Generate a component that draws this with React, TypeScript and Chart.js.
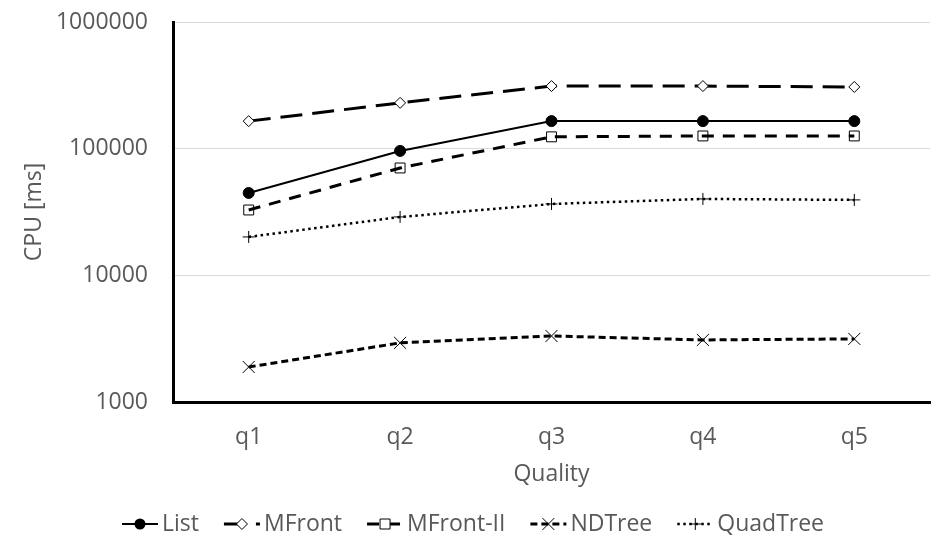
import React, { useEffect, useRef } from "react";
import { Chart, registerables } from "chart.js";

Chart.register(...registerables);

const categories = ["q1", "q2", "q3", "q4", "q5"];
const listValues = [44700, 96000, 165000, 165000, 165000];
const mfrontValues = [165000, 230000, 312000, 312000, 307000];
const mfront2Values = [32800, 70400, 124000, 126000, 126000];
const ndtreeValues = [1890, 2930, 3320, 3090, 3150];
const quadtreeValues = [20100, 28900, 36600, 40100, 39400];
const yTicks = [1000, 10000, 100000, 1000000];

const FONT = '"Open Sans", "Noto Sans", sans-serif';
const TEXT = "#595959";

type Marker = "circle" | "diamond" | "square" | "crossRot" | "cross";

function drawMarker(ctx: CanvasRenderingContext2D, m: Marker, x: number, y: number) {
  ctx.save();
  ctx.setLineDash([]);
  ctx.lineWidth = 1;
  ctx.strokeStyle = "#000";
  ctx.beginPath();
  if (m === "circle") {
    ctx.fillStyle = "#000";
    ctx.arc(x, y, 5.5, 0, Math.PI * 2);
    ctx.fill();
  } else if (m === "diamond") {
    ctx.fillStyle = "#fff";
    ctx.moveTo(x - 5.5, y);
    ctx.lineTo(x, y - 5.5);
    ctx.lineTo(x + 5.5, y);
    ctx.lineTo(x, y + 5.5);
    ctx.closePath();
    ctx.fill();
    ctx.stroke();
  } else if (m === "square") {
    ctx.fillStyle = "#fff";
    ctx.rect(x - 5, y - 5, 10, 10);
    ctx.fill();
    ctx.stroke();
  } else if (m === "crossRot") {
    const d = 6;
    ctx.moveTo(x - d, y - d);
    ctx.lineTo(x + d, y + d);
    ctx.moveTo(x - d, y + d);
    ctx.lineTo(x + d, y - d);
    ctx.stroke();
  } else {
    const d = 6;
    ctx.moveTo(x - d, y);
    ctx.lineTo(x + d, y);
    ctx.moveTo(x, y - d);
    ctx.lineTo(x, y + d);
    ctx.stroke();
  }
  ctx.restore();
}

const legendPlugin = {
  id: "customLegend",
  afterDraw(chart: any) {
    const ctx: CanvasRenderingContext2D = chart.ctx;
    const ds = chart.data.datasets;
    const sampleW = 36;
    const textGap = 4;
    const itemGap = 25;
    const y = 524;
    ctx.save();
    ctx.font = `23px ${FONT}`;
    const widths = ds.map((d: any) => ctx.measureText(d.label).width);
    let total = 0;
    widths.forEach((w: number) => (total += sampleW + textGap + w));
    total += itemGap * (ds.length - 1);
    let x = (chart.width - total) / 2;
    ds.forEach((d: any, i: number) => {
      ctx.save();
      ctx.strokeStyle = "#000";
      ctx.lineWidth = d.borderWidth;
      ctx.setLineDash(d.borderDash || []);
      ctx.beginPath();
      ctx.moveTo(x, y);
      ctx.lineTo(x + sampleW, y);
      ctx.stroke();
      ctx.restore();
      drawMarker(ctx, d.legendMarker, x + sampleW / 2, y);
      ctx.fillStyle = TEXT;
      ctx.textBaseline = "middle";
      ctx.textAlign = "left";
      ctx.fillText(d.label, x + sampleW + textGap, y);
      x += sampleW + textGap + widths[i] + itemGap;
    });
    ctx.restore();
  },
};

export default function App() {
  const ref = useRef<HTMLCanvasElement | null>(null);

  useEffect(() => {
    if (!ref.current) return;
    const chart = new Chart(ref.current, {
      type: "line",
      data: {
        labels: categories,
        datasets: [
          {
            label: "List",
            data: listValues,
            borderColor: "#000",
            borderWidth: 2,
            borderDash: [],
            pointStyle: "circle",
            pointRadius: 5.5,
            pointBackgroundColor: "#000",
            pointBorderColor: "#000",
            pointBorderWidth: 1,
            legendMarker: "circle",
          } as any,
          {
            label: "MFront",
            data: mfrontValues,
            borderColor: "#000",
            borderWidth: 3,
            borderDash: [22, 10],
            pointStyle: "rectRot",
            pointRadius: 5.5,
            pointBackgroundColor: "#fff",
            pointBorderColor: "#000",
            pointBorderWidth: 1,
            legendMarker: "diamond",
          } as any,
          {
            label: "MFront-II",
            data: mfront2Values,
            borderColor: "#000",
            borderWidth: 3,
            borderDash: [12, 9],
            pointStyle: "rect",
            pointRadius: 7,
            pointBackgroundColor: "rgba(0,0,0,0)",
            pointBorderColor: "#000",
            pointBorderWidth: 1,
            legendMarker: "square",
          } as any,
          {
            label: "NDTree",
            data: ndtreeValues,
            borderColor: "#000",
            borderWidth: 3,
            borderDash: [7, 4],
            pointStyle: "crossRot",
            pointRadius: 8.5,
            pointBackgroundColor: "#000",
            pointBorderColor: "#000",
            pointBorderWidth: 1,
            legendMarker: "crossRot",
          } as any,
          {
            label: "QuadTree",
            data: quadtreeValues,
            borderColor: "#000",
            borderWidth: 2.5,
            borderDash: [2.5, 3.5],
            pointStyle: "cross",
            pointRadius: 6,
            pointBackgroundColor: "#000",
            pointBorderColor: "#000",
            pointBorderWidth: 1,
            legendMarker: "cross",
          } as any,
        ],
      },
      options: {
        animation: false,
        responsive: true,
        maintainAspectRatio: false,
        layout: { padding: { top: 22, right: 16, bottom: 71, left: 0 } },
        plugins: {
          legend: { display: false },
          tooltip: { enabled: false },
        },
        scales: {
          x: {
            type: "category",
            offset: true,
            grid: { display: false, drawTicks: false },
            border: { display: true, color: "#000", width: 3 },
            ticks: {
              color: TEXT,
              font: { family: FONT, size: 23 },
              padding: 22,
            },
            title: {
              display: true,
              text: "Quality",
              color: TEXT,
              font: { family: FONT, size: 23 },
              padding: { top: 0, bottom: 0 },
            },
            afterFit: (scale: any) => {
              scale.height = 86;
            },
          },
          y: {
            type: "logarithmic",
            min: 1000,
            max: 1000000,
            grid: {
              color: "#d9d9d9",
              lineWidth: 1,
              drawTicks: true,
              tickLength: 25,
              tickColor: "rgba(0,0,0,0)",
            },
            border: { display: true, color: "#000", width: 3 },
            afterBuildTicks: (scale: any) => {
              scale.ticks = yTicks.map((v) => ({ value: v }));
            },
            ticks: {
              color: TEXT,
              font: { family: FONT, size: 23 },
              padding: 0,
              callback: (v: any) => String(v),
            },
            title: {
              display: true,
              text: "CPU [ms]",
              color: TEXT,
              font: { family: FONT, size: 23 },
              padding: { top: 21, bottom: 0 },
            },
            afterFit: (scale: any) => {
              scale.width = 173;
            },
          },
        },
      } as any,
      plugins: [legendPlugin],
    });
    return () => chart.destroy();
  }, []);

  return (
    <div style={{ position: "fixed", left: 0, top: 0, width: 946, height: 559, background: "#fff" }}>
      <canvas ref={ref} />
    </div>
  );
}
